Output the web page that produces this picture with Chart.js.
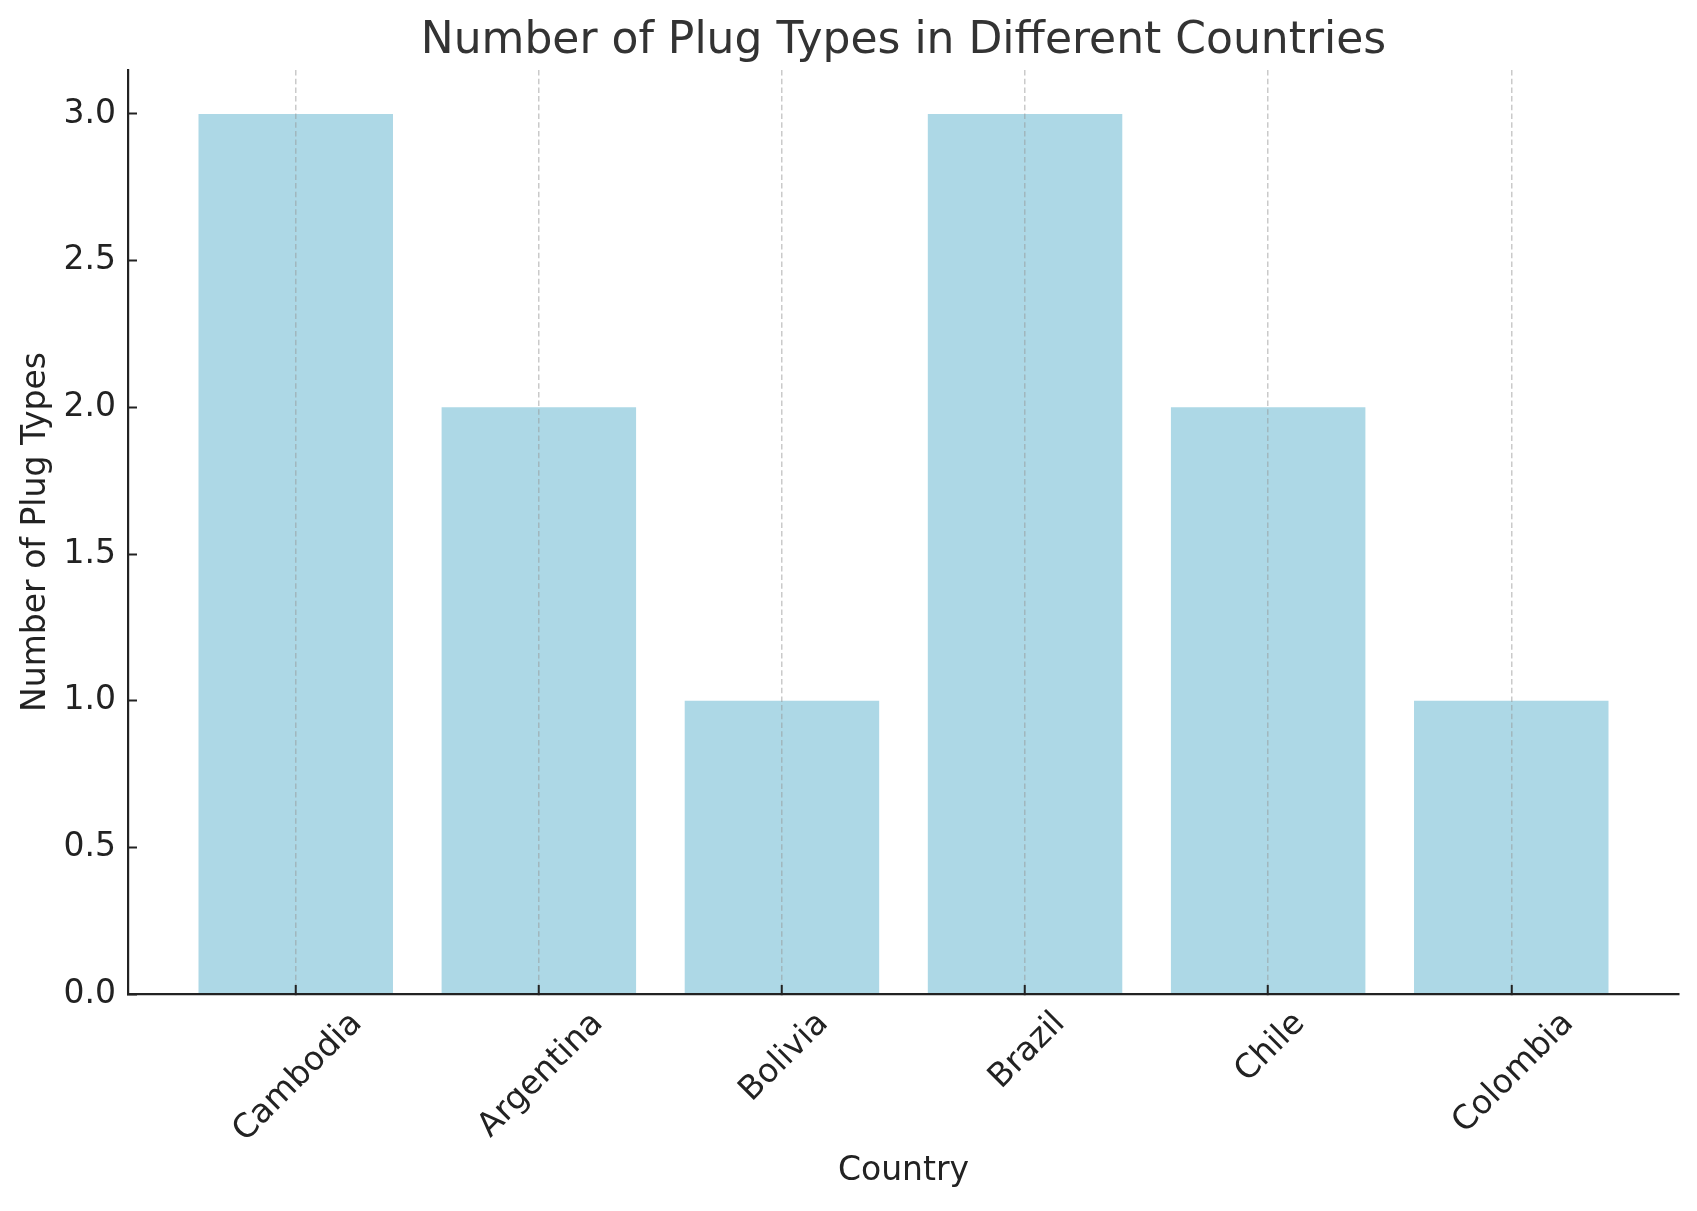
<!DOCTYPE html>
<html>
<head>
<meta charset="utf-8">
<title>Number of Plug Types in Different Countries</title>
<script src="https://cdn.jsdelivr.net/npm/chart.js@4"></script>
<style>
    html, body { margin: 0; padding: 0; background: #fff; overflow: hidden; }
    canvas { display: block; }
</style>
</head>
<body>
<canvas id="plugChart" width="1697" height="1211"></canvas>
<script>
const countries = ["Cambodia", "Argentina", "Bolivia", "Brazil", "Chile", "Colombia"];
const plugTypes = [3, 2, 1, 3, 2, 1];
const yTicks = [0, 0.5, 1, 1.5, 2, 2.5, 3];

const TEXT = "#222222";
const AXIS = "#222222";

// rotated country names, centred on their tick like matplotlib does
const xLabelPlugin = {
    id: "xLabels",
    afterDraw(chart) {
        const scale = chart.scales.x;
        const ctx = chart.ctx;
        const size = 33;
        ctx.save();
        ctx.font = `${size}px "DejaVu Sans"`;
        ctx.fillStyle = TEXT;
        ctx.textAlign = "center";
        ctx.textBaseline = "alphabetic";
        scale.ticks.forEach(tick => {
            const label = countries[tick.value];
            const px = scale.getPixelForValue(tick.value);
            const w = ctx.measureText(label).width;
            const cy = scale.top + 19 + w * Math.SQRT1_2 / 2 + 3;
            ctx.save();
            ctx.translate(px, cy);
            ctx.rotate(-Math.PI / 4);
            ctx.fillText(label, 0, 0.36 * size);
            ctx.restore();
        });
        ctx.restore();
    }
};

Chart.defaults.font.family = '"DejaVu Sans", "Noto Sans", sans-serif';

const ctx = document.getElementById("plugChart").getContext("2d");

new Chart(ctx, {
    type: "bar",
    data: {
        datasets: [{
            label: "Number of Plug Types",
            data: countries.map((c, i) => ({ x: i, y: plugTypes[i] })),
            backgroundColor: "#ADD8E6",
            borderWidth: 0,
            barPercentage: 0.8,
            categoryPercentage: 1.0
        }]
    },
    options: {
        responsive: false,
        animation: false,
        devicePixelRatio: 1,
        layout: { padding: { top: 0, right: 18, bottom: 0, left: 0 } },
        scales: {
            x: {
                type: "linear",
                min: -0.69,
                max: 5.69,
                offset: false,
                afterBuildTicks: scale => {
                    scale.ticks = countries.map((c, i) => ({ value: i }));
                },
                afterFit: scale => { scale.height = 217; },
                ticks: { display: false },
                grid: {
                    z: 1,
                    offset: false,
                    color: "rgba(150,150,150,0.5)",
                    lineWidth: 1.5,
                    tickLength: -9,
                    tickColor: AXIS,
                    tickWidth: 2
                },
                border: { z: 1, color: AXIS, width: 2.2, dash: [5.5, 3.2] },
                title: {
                    display: true,
                    text: "Country",
                    color: TEXT,
                    font: { size: 33 },
                    padding: { top: 0, bottom: 19.6 }
                }
            },
            y: {
                min: 0,
                max: 3.15,
                afterBuildTicks: scale => {
                    scale.ticks = yTicks.map(v => ({ value: v }));
                },
                afterFit: scale => { scale.width = 128; },
                ticks: {
                    color: TEXT,
                    font: { size: 33 },
                    padding: 21,
                    callback: v => Number(v).toFixed(1)
                },
                grid: {
                    drawOnChartArea: false,
                    color: "rgba(0,0,0,0)",
                    tickLength: -9,
                    tickColor: AXIS,
                    tickWidth: 2
                },
                border: { z: 1, color: AXIS, width: 2.2 },
                title: {
                    display: true,
                    text: "Number of Plug Types",
                    color: TEXT,
                    font: { size: 33 },
                    padding: { top: 16.5, bottom: 0 }
                }
            }
        },
        plugins: {
            legend: { display: false },
            tooltip: { enabled: false },
            title: {
                display: true,
                text: "Number of Plug Types in Different Countries",
                fullSize: false,
                color: "#333333",
                font: { size: 44, weight: "normal" },
                padding: { top: 15, bottom: 2.2 }
            }
        }
    },
    plugins: [xLabelPlugin]
});
</script>
</body>
</html>
